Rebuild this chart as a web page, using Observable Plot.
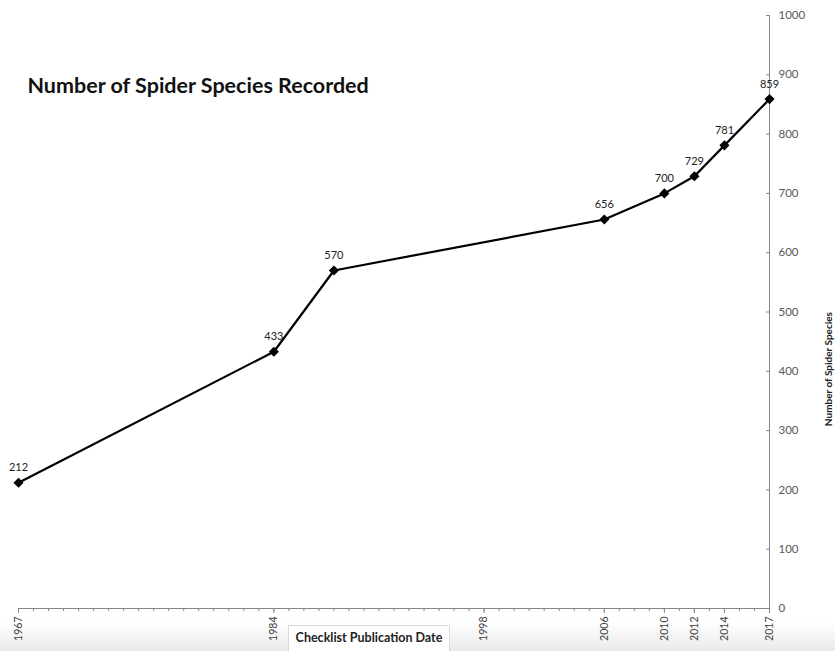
<!DOCTYPE html>
<html>
<head>
<meta charset="utf-8">
<script src="https://cdn.jsdelivr.net/npm/d3@7"></script>
<script src="https://cdn.jsdelivr.net/npm/@observablehq/plot@0.6"></script>
<style>
  html, body { margin: 0; padding: 0; }
  body { width: 835px; height: 651px; overflow: hidden; font-family: Lato, "Open Sans", sans-serif;
         background: linear-gradient(to bottom, #ffffff 0px, #ffffff 622px, #e9e9e9 651px); position: relative; }
  #chart svg { background: transparent !important; display: block; }
  #xlabel { position: absolute; left: 288px; top: 625px; width: 162px; height: 26px; border: 1px solid #d9d9d9;
            border-bottom: none; background: #fff; box-sizing: border-box; font: bold 12.5px Lato, sans-serif;
            color: #222; text-align: center; line-height: 24px; }
</style>
</head>
<body>
<div id="chart"></div>
<div id="xlabel">Checklist Publication Date</div>
<script>
const years  = [1967, 1984, 1988, 2006, 2010, 2012, 2014, 2017];
const counts = [212, 433, 570, 656, 700, 729, 781, 859];
const xTickYears = [1967, 1984, 1998, 2006, 2010, 2012, 2014, 2017];
const minorYears = d3.range(1967, 2018);
const yTicks = [0, 100, 200, 300, 400, 500, 600, 700, 800, 900, 1000];
const title = "Number of Spider Species Recorded";
const yLabel = "Number of Spider Species";

const data = years.map((y, i) => ({year: y, count: counts[i]}));
const axisGray = "#868686";

const chart = Plot.plot({
  width: 835,
  height: 651,
  marginLeft: 18,
  marginRight: 66,
  marginTop: 15,
  marginBottom: 43,
  style: {fontFamily: "Lato, 'Open Sans', sans-serif", background: "transparent"},
  x: {domain: [1967, 2017]},
  y: {domain: [0, 1000]},
  marks: [
    Plot.ruleY([0], {stroke: axisGray}),
    Plot.ruleX([2017], {stroke: axisGray}),
    Plot.axisX({ticks: minorYears, tickSize: 3, tickFormat: () => "", stroke: axisGray, label: null}),
    Plot.axisX({ticks: xTickYears, tickSize: 5, tickPadding: 3, tickRotate: -90, tickFormat: d => String(d),
                stroke: axisGray, fill: "#404040", fontSize: 10.5, label: null}),
    Plot.axisY({anchor: "right", ticks: yTicks, tickSize: -4, tickPadding: 13, tickFormat: d => String(d),
                stroke: axisGray, fill: "#595959", fontSize: 11.5, label: null}),
    Plot.text([yLabel], {frameAnchor: "right", dx: 59, rotate: -90, fontSize: 10, fontWeight: "bold", fill: "#222"}),
    Plot.text([title], {frameAnchor: "top-left", dx: 9, dy: 62, textAnchor: "start", fontSize: 21.5, fontWeight: "bold", fill: "#111"}),
    Plot.line(data, {x: "year", y: "count", curve: "linear", stroke: "#000", strokeWidth: 2.2}),
    Plot.dot(data, {x: "year", y: "count", symbol: "diamond2", r: 3.6, fill: "#000", stroke: "#000"}),
    Plot.text(data, {x: "year", y: "count", text: d => String(d.count), dy: -15, fontSize: 11, fill: "#222"})
  ]
});
document.getElementById("chart").append(chart);
</script>
</body>
</html>
